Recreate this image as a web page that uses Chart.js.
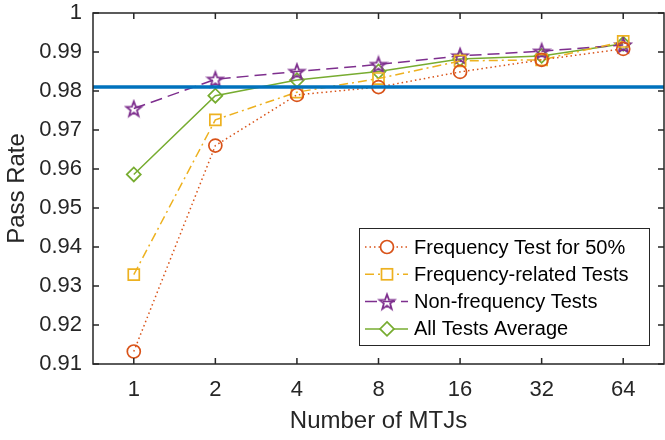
<!DOCTYPE html>
<html>
<head>
<meta charset="utf-8">
<script src="https://cdn.jsdelivr.net/npm/chart.js@4.4.0/dist/chart.umd.min.js"></script>
<style>
html, body { margin: 0; padding: 0; background: #fff; }
</style>
</head>
<body>
<canvas id="myChart" width="665" height="440"></canvas>
<script>
// data
const mtjs = ['1', '2', '4', '8', '16', '32', '64'];
const freq50 = [0.9132, 0.9660, 0.9790, 0.9810, 0.9849, 0.9880, 0.9908];
const freqRelated = [0.9329, 0.9726, 0.9797, 0.9832, 0.9877, 0.9880, 0.9927];
const nonFreq = [0.9755, 0.9830, 0.9850, 0.9868, 0.9890, 0.9902, 0.9918];
const allAvg = [0.9586, 0.9788, 0.9828, 0.9850, 0.9882, 0.9890, 0.9921];
const threshold = 0.981;
const yMin = 0.91, yMax = 1, yStep = 0.01;

const TEXT = '#262626';
const FONT = "'Liberation Sans', Arial, Helvetica, sans-serif";

// MATLAB style pentagram marker
function makeStar(color) {
    const c = document.createElement('canvas');
    c.width = 20; c.height = 20;
    const g = c.getContext('2d');
    g.strokeStyle = color;
    g.lineWidth = 1.8;
    g.lineJoin = 'miter';
    g.beginPath();
    for (let i = 0; i < 10; i++) {
        const r = i % 2 === 0 ? 8 : 3.3;
        const a = -Math.PI / 2 + i * Math.PI / 5;
        const px = 10 + r * Math.cos(a), py = 10.8 + r * Math.sin(a);
        if (i === 0) g.moveTo(px, py); else g.lineTo(px, py);
    }
    g.closePath();
    g.stroke();
    return c;
}
const starImg = makeStar('#7E2F8E');

function lineSet(label, data, color, dash, style, radius) {
    return {
        label: label,
        data: data,
        borderColor: color,
        backgroundColor: 'rgba(0,0,0,0)',
        borderWidth: 1.5,
        borderDash: dash,
        pointStyle: style,
        pointRadius: radius,
        pointHoverRadius: radius,
        pointBorderWidth: 1.7,
        pointBorderColor: color,
        pointBackgroundColor: 'rgba(0,0,0,0)',
        tension: 0
    };
}

// threshold line, axes box with inward ticks, legend
const extras = {
    id: 'extras',
    afterDatasetsDraw(chart) {
        const ctx = chart.ctx, a = chart.chartArea;
        const y = chart.scales.y.getPixelForValue(threshold);
        ctx.save();
        ctx.strokeStyle = '#0072BD';
        ctx.lineWidth = 3.5;
        ctx.beginPath();
        ctx.moveTo(a.left, y);
        ctx.lineTo(a.right, y);
        ctx.stroke();
        ctx.restore();
    },
    afterDraw(chart) {
        const ctx = chart.ctx, a = chart.chartArea;
        const xs = chart.scales.x, ys = chart.scales.y;
        ctx.save();
        ctx.strokeStyle = TEXT;
        ctx.lineWidth = 1.5;
        ctx.strokeRect(a.left, a.top, a.right - a.left, a.bottom - a.top);
        ctx.beginPath();
        const tl = 6;
        xs.ticks.forEach((t, i) => {
            const px = xs.getPixelForTick(i);
            ctx.moveTo(px, a.bottom); ctx.lineTo(px, a.bottom - tl);
            ctx.moveTo(px, a.top); ctx.lineTo(px, a.top + tl);
        });
        ys.ticks.forEach((t, i) => {
            const py = ys.getPixelForTick(i);
            ctx.moveTo(a.left, py); ctx.lineTo(a.left + tl, py);
            ctx.moveTo(a.right, py); ctx.lineTo(a.right - tl, py);
        });
        ctx.stroke();

        // legend box
        const w = 290, h = 117;
        const x0 = a.right - 15 - w, y0 = a.bottom - 19 - h;
        ctx.fillStyle = '#fff';
        ctx.fillRect(x0, y0, w, h);
        ctx.strokeStyle = '#262626';
        ctx.lineWidth = 1;
        ctx.strokeRect(x0 + 0.5, y0 + 0.5, w, h);
        ctx.font = '20px ' + FONT;
        ctx.textBaseline = 'middle';
        chart.data.datasets.forEach((ds, i) => {
            const ry = y0 + 19 + i * 27.3;
            ctx.strokeStyle = ds.borderColor;
            ctx.lineWidth = 1.5;
            ctx.setLineDash(ds.borderDash);
            ctx.beginPath();
            ctx.moveTo(x0 + 6, ry);
            ctx.lineTo(x0 + 49, ry);
            ctx.stroke();
            ctx.setLineDash([]);
            const mx = x0 + 28;
            ctx.lineWidth = 1.7;
            ctx.beginPath();
            if (ds.pointStyle === 'circle') {
                ctx.arc(mx, ry, 6.5, 0, Math.PI * 2);
                ctx.fillStyle = '#fff'; ctx.fill();
                ctx.stroke();
            } else if (ds.pointStyle === 'rect') {
                ctx.fillStyle = '#fff';
                ctx.fillRect(mx - 5.5, ry - 5.5, 11, 11);
                ctx.strokeRect(mx - 5.5, ry - 5.5, 11, 11);
            } else if (ds.pointStyle === 'rectRot') {
                ctx.moveTo(mx, ry - 7); ctx.lineTo(mx + 7, ry);
                ctx.lineTo(mx, ry + 7); ctx.lineTo(mx - 7, ry);
                ctx.closePath();
                ctx.fillStyle = '#fff'; ctx.fill();
                ctx.stroke();
            } else {
                ctx.drawImage(ds.pointStyle, mx - 10, ry - 10);
            }
            ctx.fillStyle = '#000';
            ctx.fillText(ds.label, x0 + 55, ry + 1);
        });
        ctx.restore();
    }
};

const ctx = document.getElementById('myChart');
new Chart(ctx, {
    type: 'line',
    data: {
        labels: mtjs,
        datasets: [
            lineSet('Frequency Test for 50%', freq50, '#D95319', [1.5, 3], 'circle', 6.5),
            lineSet('Frequency-related Tests', freqRelated, '#EDB120', [9, 4, 2, 4], 'rect', 7.8),
            lineSet('Non-frequency Tests', nonFreq, '#7E2F8E', [12, 6], starImg, 9),
            lineSet('All Tests Average', allAvg, '#77AC30', [], 'rectRot', 7)
        ]
    },
    options: {
        responsive: false,
        animation: false,
        devicePixelRatio: 1,
        layout: { autoPadding: false, padding: { top: 13, right: 1, left: 0, bottom: 0 } },
        plugins: {
            legend: { display: false },
            tooltip: { enabled: false }
        },
        scales: {
            x: {
                offset: true,
                grid: { display: false, drawTicks: false },
                border: { display: false },
                ticks: { color: TEXT, font: { family: FONT, size: 22 }, padding: 13, maxRotation: 0 },
                title: { display: true, text: 'Number of MTJs', color: TEXT,
                         font: { family: FONT, size: 24 }, padding: { top: 0, bottom: 4 } },
                afterFit: (s) => { s.height = 76; s.paddingLeft = 0; s.paddingRight = 0; }
            },
            y: {
                min: yMin,
                max: yMax,
                grid: { display: false, drawTicks: false },
                border: { display: false },
                ticks: {
                    stepSize: yStep,
                    color: TEXT,
                    font: { family: FONT, size: 22 },
                    padding: 11,
                    callback: (v) => String(Number(v.toFixed(2)))
                },
                title: { display: true, text: 'Pass Rate', color: TEXT,
                         font: { family: FONT, size: 24 }, padding: { top: 3, bottom: 0 } },
                afterFit: (s) => { s.width = 93; s.paddingTop = 0; s.paddingBottom = 0; }
            }
        }
    },
    plugins: [extras]
});
</script>
</body>
</html>
